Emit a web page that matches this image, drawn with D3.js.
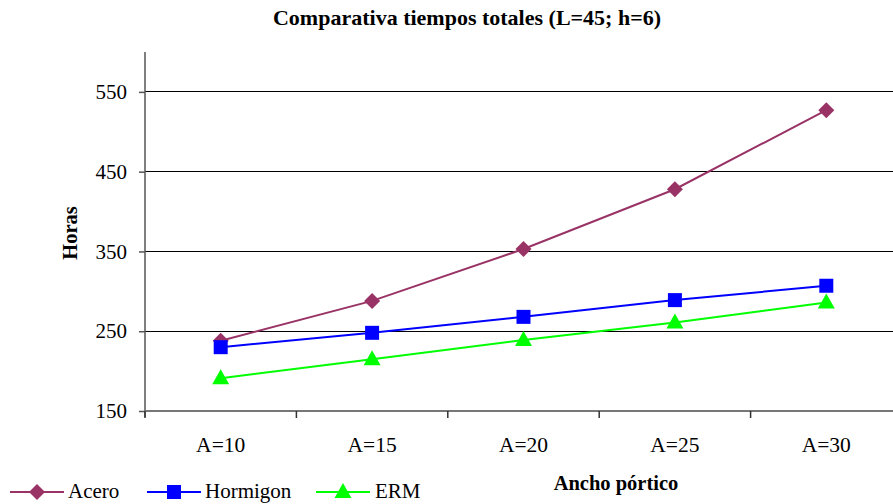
<!DOCTYPE html>
<html>
<head>
<meta charset="utf-8">
<script src="https://cdn.jsdelivr.net/npm/d3@7"></script>
<style>
  html, body { margin: 0; padding: 0; background: #fff; }
  svg { display: block; }
  svg text { font-family: "Liberation Serif", "Times New Roman", Times, "DejaVu Serif", serif; }
</style>
</head>
<body>
<svg id="chart" width="893" height="504"></svg>
<script>
// Horas totales por ancho de pórtico
const categories = ["A=10", "A=15", "A=20", "A=25", "A=30"];
const acero    = [238, 288, 353, 428, 527];
const hormigon = [230, 248, 268, 289, 307];
const erm      = [191, 215, 239, 261, 286];
const yTicks   = [150, 250, 350, 450, 550];

const series = [
  { name: "Acero",    values: acero,    color: "#993366" },
  { name: "Hormigon", values: hormigon, color: "#0000FF" },
  { name: "ERM",      values: erm,      color: "#00FF00" }
];

const svg = d3.select("#chart");
const plot = { left: 145, right: 902, top: 52, bottom: 411 };

const x = d3.scaleBand().domain(categories).range([plot.left, plot.right]);
const y = d3.scaleLinear().domain([150, 600]).range([plot.bottom, plot.top]);

// marker outlines, centred on the data point
const shapes = {
  Acero: "M0,-8L8,0L0,8L-8,0Z",
  Hormigon: "M-7,-7H7V7H-7Z",
  ERM: "M0,-9L8.5,6L-8.5,6Z"
};

// gridlines
svg.append("g")
  .selectAll("line")
  .data(yTicks.filter(t => t > 150))
  .join("line")
  .attr("x1", plot.left).attr("x2", 893)
  .attr("y1", d => y(d)).attr("y2", d => y(d))
  .attr("stroke", "#000").attr("stroke-width", 1)
  .attr("shape-rendering", "crispEdges");

// y axis
const yAxis = d3.axisLeft(y).tickValues(yTicks).tickSize(6).tickPadding(12);
const gy = svg.append("g").attr("transform", `translate(${plot.left},0)`).call(yAxis);
gy.attr("font-family", null);
gy.select(".domain").attr("d", `M0,${plot.top}V${plot.bottom + 6}`).attr("stroke", "#555").attr("stroke-width", 1.5);
gy.selectAll(".tick line").attr("stroke", "#555").attr("stroke-width", 1.5);
gy.selectAll(".tick text").attr("font-size", 21).attr("fill", "#000");

// x axis
const xAxis = d3.axisBottom(x).tickSize(0).tickPadding(26);
const gx = svg.append("g").attr("transform", `translate(0,${plot.bottom})`).call(xAxis);
gx.attr("font-family", null);
gx.select(".domain").attr("d", `M${plot.left},0H893`).attr("stroke", "#777").attr("stroke-width", 2);
gx.selectAll(".tick text").attr("font-size", 21.5).attr("fill", "#000");
// category boundary tick marks
gx.append("g").selectAll("line")
  .data(categories)
  .join("line")
  .attr("x1", d => x(d)).attr("x2", d => x(d))
  .attr("y1", 0).attr("y2", 7)
  .attr("stroke", "#333").attr("stroke-width", 1.5);

// lines and markers
const line = d3.line()
  .x((d, i) => x(categories[i]) + x.bandwidth() / 2)
  .y(d => y(d));

series.forEach(s => {
  svg.append("path")
    .datum(s.values)
    .attr("fill", "none")
    .attr("stroke", s.color)
    .attr("stroke-width", 2)
    .attr("d", line);
});
series.forEach(s => {
  svg.append("g")
    .selectAll("path")
    .data(s.values)
    .join("path")
    .attr("transform", (d, i) => `translate(${x(categories[i]) + x.bandwidth() / 2},${y(d)})`)
    .attr("d", shapes[s.name])
    .attr("fill", s.color);
});

// title
svg.append("text")
  .attr("x", 467).attr("y", 25)
  .attr("text-anchor", "middle")
  .attr("font-weight", "bold").attr("font-size", 22)
  .text("Comparativa tiempos totales (L=45; h=6)");

// axis titles
svg.append("text")
  .attr("transform", "translate(77,233) rotate(-90)")
  .attr("text-anchor", "middle")
  .attr("font-weight", "bold").attr("font-size", 20.5)
  .text("Horas");

svg.append("text")
  .attr("x", 616).attr("y", 490)
  .attr("text-anchor", "middle")
  .attr("font-weight", "bold").attr("font-size", 20.5)
  .text("Ancho pórtico");

// legend
const legendItems = [
  { s: series[0], x0: 10, tx: 68 },
  { s: series[1], x0: 147, tx: 205 },
  { s: series[2], x0: 316, tx: 375 }
];
const ly = 492;
legendItems.forEach(it => {
  const g = svg.append("g");
  g.append("line")
    .attr("x1", it.x0).attr("x2", it.x0 + 54)
    .attr("y1", ly).attr("y2", ly)
    .attr("stroke", it.s.color).attr("stroke-width", 2);
  g.append("path")
    .attr("transform", `translate(${it.x0 + 27},${ly})`)
    .attr("d", shapes[it.s.name])
    .attr("fill", it.s.color);
  g.append("text")
    .attr("x", it.tx).attr("y", 498)
    .attr("font-size", 21)
    .text(it.s.name);
});
</script>
</body>
</html>
